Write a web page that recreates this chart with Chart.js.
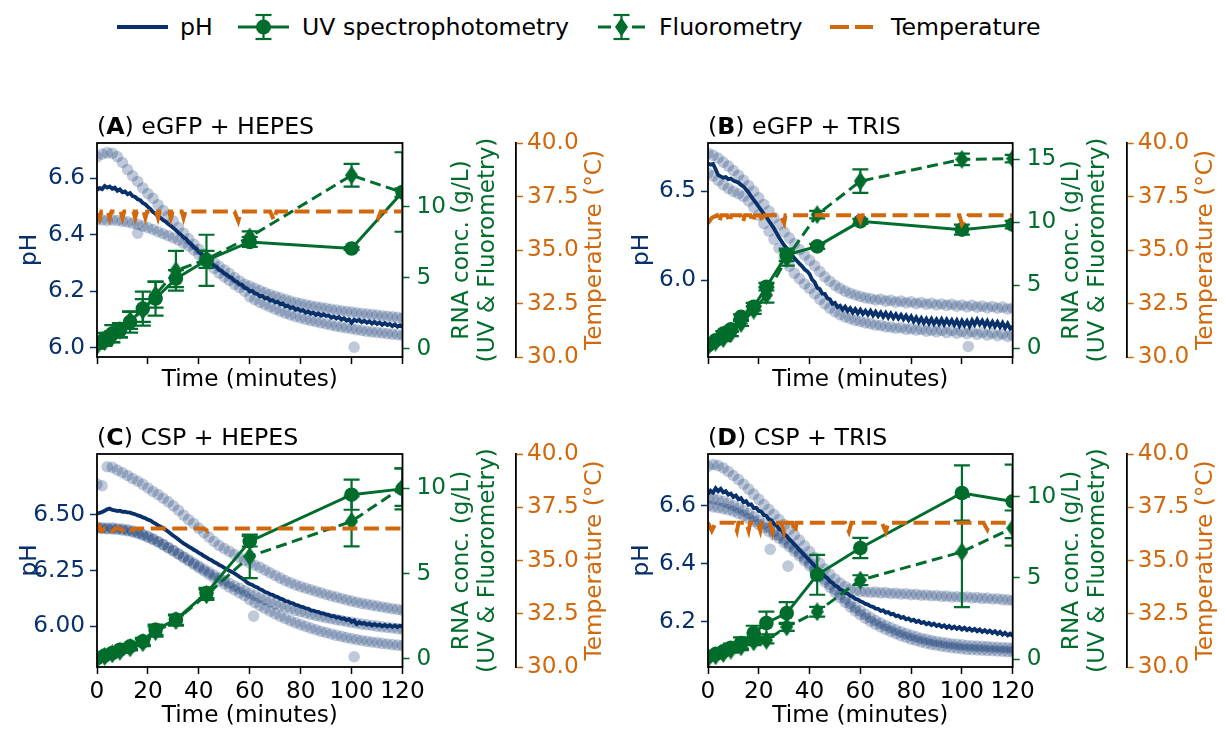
<!DOCTYPE html>
<html>
<head>
<meta charset="utf-8">
<script src="https://cdn.jsdelivr.net/npm/chart.js@4.4.1/dist/chart.umd.min.js"></script>
<style>
  html, body { margin: 0; padding: 0; background: #fff; }
  body { width: 1225px; height: 730px; position: relative; overflow: hidden; font-family: 'DejaVu Sans', sans-serif; }
  canvas { position: absolute; }
  .leg { position: absolute; top: 12px; height: 30px; line-height: 30px; font-size: 23.6px; color: #000; white-space: nowrap; }
  .icon { position: absolute; top: 12px; }
</style>
</head>
<body>

<svg class="icon" style="left:113px" width="60" height="30"><line x1="4" y1="15" x2="55" y2="15" stroke="#08306b" stroke-width="4"/></svg>
<span class="leg" style="left:180px">pH</span>

<svg class="icon" style="left:232px" width="64" height="30">
  <line x1="6" y1="15" x2="57" y2="15" stroke="#006d2c" stroke-width="3"/>
  <g stroke="#006d2c" stroke-width="2.2"><line x1="31.5" y1="3" x2="31.5" y2="27"/><line x1="23.5" y1="3" x2="39.5" y2="3"/><line x1="23.5" y1="27" x2="39.5" y2="27"/></g>
  <circle cx="31.5" cy="15" r="7.5" fill="#006d2c"/>
</svg>
<span class="leg" style="left:302px">UV spectrophotometry</span>

<svg class="icon" style="left:594px" width="56" height="30">
  <g stroke="#006d2c" stroke-width="3"><line x1="4" y1="15" x2="17" y2="15"/><line x1="38" y1="15" x2="51" y2="15"/></g>
  <g stroke="#006d2c" stroke-width="2.2"><line x1="27.5" y1="3" x2="27.5" y2="27"/><line x1="19.5" y1="3" x2="35.5" y2="3"/><line x1="19.5" y1="27" x2="35.5" y2="27"/></g>
  <polygon points="27.5,5.5 34,15 27.5,24.5 21,15" fill="#006d2c"/>
</svg>
<span class="leg" style="left:659px">Fluorometry</span>

<svg class="icon" style="left:826px" width="52" height="30"><g stroke="#d2680c" stroke-width="4"><line x1="4" y1="15" x2="23" y2="15"/><line x1="29" y1="15" x2="47" y2="15"/></g></svg>
<span class="leg" style="left:891px">Temperature</span>

<canvas id="panelA" width="612" height="294" style="left:0px;top:100px"></canvas>
<canvas id="panelB" width="613" height="294" style="left:612px;top:100px"></canvas>
<canvas id="panelC" width="612" height="318" style="left:0px;top:412px"></canvas>
<canvas id="panelD" width="613" height="318" style="left:612px;top:412px"></canvas>

<script>
// ---- time grids ----
const lineMinutes = [0,1,2,3,4,5,6,7,8,9,10,11,12,13,14,15,16,17,18,19,20,21,22,23,24,25,26,27,28,29,
  30,31,32,33,34,35,36,37,38,39,40,41,42,43,44,45,46,47,48,49,50,51,52,53,54,55,56,57,58,59,
  60,61,62,63,64,65,66,67,68,69,70,71,72,73,74,75,76,77,78,79,80,81,82,83,84,85,86,87,88,89,
  90,91,92,93,94,95,96,97,98,99,100,101,102,103,104,105,106,107,108,109,110,111,112,113,114,115,116,117,118,119,120];
const scatterMinutes = [0,2,4,6,8,10,12,14,16,18,20,22,24,26,28,30,32,34,36,38,40,42,44,46,48,50,52,54,56,58,
  60,62,64,66,68,70,72,74,76,78,80,82,84,86,88,90,92,94,96,98,100,102,104,106,108,110,112,114,116,118,120];
const sampleMinutes = [0, 3, 6, 9, 13, 18, 23, 31, 43, 60, 100, 120];
const timeTicks = [0, 20, 40, 60, 80, 100, 120];
const tempTicks = [30, 32.5, 35, 37.5, 40];

// ---- (A) eGFP + HEPES ----
const phLineA = [6.558,6.565,6.561,6.572,6.566,6.570,6.562,6.566,6.555,6.560,
  6.550,6.553,6.543,6.547,6.536,6.533,6.525,6.522,6.512,6.507,
  6.498,6.490,6.480,6.474,6.463,6.459,6.451,6.446,6.437,6.431,
  6.423,6.416,6.406,6.400,6.390,6.385,6.373,6.366,6.355,6.350,
  6.338,6.332,6.318,6.313,6.302,6.298,6.289,6.286,6.275,6.271,
  6.263,6.258,6.250,6.246,6.236,6.233,6.224,6.222,6.212,6.209,
  6.199,6.201,6.192,6.190,6.181,6.183,6.174,6.176,6.166,6.168,
  6.160,6.163,6.153,6.156,6.146,6.149,6.140,6.143,6.134,6.137,
  6.130,6.133,6.124,6.128,6.120,6.124,6.116,6.121,6.113,6.118,
  6.112,6.114,6.106,6.110,6.103,6.108,6.099,6.104,6.096,6.100,
  6.088,6.099,6.094,6.098,6.090,6.095,6.088,6.093,6.085,6.091,
  6.084,6.089,6.081,6.087,6.080,6.084,6.076,6.082,6.074,6.079,6.072];
const phRep1A = [6.675,6.685,6.690,6.688,6.676,6.655,6.630,6.608,6.588,6.565,
  6.545,6.528,6.505,6.485,6.466,6.448,6.425,6.405,6.385,6.366,
  6.348,6.330,6.314,6.300,6.288,6.275,6.262,6.248,6.236,6.224,
  6.218,6.210,6.202,6.195,6.188,6.182,6.176,6.170,6.165,6.160,
  6.156,6.152,6.148,6.145,6.142,6.139,6.136,6.133,6.130,6.128,
  6.126,6.123,6.121,6.119,6.117,6.115,6.113,6.111,6.109,6.107,6.105];
const phRep2A = [6.455,6.452,6.450,6.452,6.450,6.447,6.445,6.440,6.436,6.430,
  6.425,6.418,6.410,6.403,6.396,6.388,6.380,6.370,6.360,6.346,
  6.330,6.312,6.296,6.280,6.264,6.250,6.238,6.224,6.213,6.200,
  6.180,6.170,6.160,6.152,6.144,6.136,6.129,6.122,6.116,6.110,
  6.105,6.100,6.096,6.092,6.088,6.084,6.080,6.076,6.073,6.070,
  6.067,6.064,6.061,6.058,6.056,6.054,6.052,6.050,6.048,6.046,6.043];
const outlierTimeA = [16, 101];
const outlierPhA = [6.405, 6.002];
const uvA = [0.37, 0.72, 1.07, 1.30, 1.89, 2.83, 3.54, 4.94, 6.23, 7.52, 7.06, 11.04];
const uvErrA = [0.3, 0.4, 0.6, 0.5, 0.75, 1.2, 1.2, 0.6, 1.8, 0.35, 0.1, 2.8];
const fluoA = [0.2, 0.5, 0.85, 1.3, 2.0, 2.7, 3.8, 5.5, 6.3, 7.87, 12.22, 11.0];
const fluoErrA = [0.2, 0.3, 0.4, 0.5, 0.6, 0.8, 0.9, 1.4, 0.6, 0.4, 0.8, 0.3];
const tempTimeA = [0, 1, 1.7, 4.3, 5, 5.7, 9.3, 10, 10.7, 14.3, 15, 15.7, 18.3, 19, 19.7, 23.3, 24, 24.7,
  28.3, 29, 29.7, 33.3, 34, 34.7, 54, 55.5, 56.5, 68, 69.5, 70.5, 109, 110.5, 111.5, 120];
const tempA = [36.7, 36.45, 36.8, 36.8, 36.5, 36.8, 36.8, 36.5, 36.8, 36.8, 36.5, 36.8, 36.8, 36.5, 36.8,
  36.8, 36.5, 36.8, 36.8, 36.5, 36.8, 36.8, 36.5, 36.8, 36.8, 36.35, 36.8, 36.8, 36.4, 36.8,
  36.8, 36.5, 36.8, 36.8];

// ---- (B) eGFP + TRIS ----
const phLineB = [6.655,6.648,6.652,6.622,6.590,6.582,6.575,6.578,6.566,6.570,
  6.558,6.553,6.547,6.534,6.525,6.508,6.492,6.470,6.450,6.432,
  6.412,6.392,6.372,6.355,6.332,6.312,6.290,6.265,6.240,6.218,
  6.196,6.180,6.162,6.146,6.124,6.110,6.094,6.080,6.062,6.052,
  6.036,6.004,5.990,5.958,5.952,5.926,5.925,5.900,5.894,5.868,
  5.874,5.850,5.858,5.836,5.852,5.828,5.844,5.820,5.839,5.816,
  5.836,5.812,5.830,5.808,5.829,5.804,5.824,5.800,5.820,5.796,
  5.818,5.792,5.814,5.789,5.810,5.786,5.806,5.782,5.803,5.777,
  5.798,5.770,5.792,5.766,5.788,5.762,5.785,5.759,5.784,5.757,
  5.781,5.756,5.782,5.754,5.780,5.756,5.777,5.751,5.776,5.746,
  5.774,5.749,5.772,5.744,5.776,5.752,5.780,5.754,5.774,5.746,
  5.772,5.744,5.768,5.742,5.766,5.739,5.762,5.734,5.758,5.730,5.742];
const phRep1B = [6.712,6.700,6.685,6.662,6.640,6.615,6.588,6.560,6.530,6.498,
  6.462,6.425,6.388,6.350,6.312,6.272,6.238,6.205,6.172,6.142,
  6.112,6.082,6.050,6.020,5.995,5.972,5.955,5.940,5.928,5.918,
  5.910,5.902,5.898,5.890,5.894,5.884,5.888,5.878,5.884,5.874,
  5.880,5.870,5.876,5.866,5.872,5.862,5.868,5.860,5.866,5.856,
  5.862,5.852,5.860,5.850,5.856,5.846,5.854,5.844,5.850,5.840,5.846];
const phRep2B = [6.600,6.585,6.560,6.535,6.515,6.498,6.485,6.470,6.445,6.410,
  6.365,6.318,6.275,6.230,6.180,6.125,6.080,6.040,6.010,5.980,
  5.955,5.925,5.895,5.868,5.845,5.825,5.808,5.795,5.785,5.776,
  5.770,5.762,5.758,5.750,5.748,5.740,5.738,5.732,5.735,5.726,
  5.730,5.722,5.726,5.716,5.722,5.712,5.720,5.708,5.718,5.704,
  5.714,5.702,5.712,5.698,5.708,5.694,5.704,5.690,5.700,5.686,5.694];
const outlierTimeB = [102.5];
const outlierPhB = [5.63];
const uvB = [0.24, 0.64, 1.17, 1.5, 2.50, 3.30, 4.89, 7.42, 8.09, 10.08, 9.42, 9.82];
const uvErrB = [0.1, 0.1, 0.2, 0.2, 0.2, 0.3, 0.3, 0.5, 0.2, 0.2, 0.4, 0.3];
const fluoB = [0.13, 0.5, 0.77, 1.17, 1.97, 3.03, 4.23, 7.16, 10.61, 13.27, 15.0, 15.06];
const fluoErrB = [0.1, 0.1, 0.2, 0.2, 0.2, 0.3, 0.6, 0.6, 0.3, 0.93, 0.45, 0.3];
const tempTimeB = [0, 1.5, 3.5, 4.5, 5.2, 7.5, 8.5, 9.2, 12.8, 13.8, 14.5, 16.7, 17.7, 18.4, 20.6, 21.6, 22.3,
  28.5, 30, 30.5, 59, 60, 60.7, 99, 100, 102.5, 120];
const tempB = [36.25, 36.5, 36.62, 36.3, 36.62, 36.62, 36.3, 36.62, 36.62, 36.3, 36.62, 36.62, 36.3, 36.62,
  36.62, 36.3, 36.62, 36.62, 36.25, 36.62, 36.62, 36.35, 36.62, 36.62, 36.2, 36.62, 36.62];

// ---- (C) CSP + HEPES ----
const phLineC = [6.505,6.508,6.512,6.518,6.524,6.528,6.522,6.520,6.516,6.518,
  6.513,6.514,6.510,6.509,6.505,6.502,6.497,6.494,6.488,6.484,
  6.478,6.474,6.466,6.460,6.452,6.446,6.440,6.432,6.424,6.415,
  6.406,6.398,6.389,6.380,6.372,6.365,6.357,6.351,6.343,6.337,
  6.329,6.323,6.315,6.309,6.301,6.296,6.288,6.283,6.275,6.270,
  6.262,6.257,6.249,6.244,6.237,6.230,6.222,6.215,6.207,6.196,
  6.190,6.186,6.178,6.174,6.166,6.162,6.154,6.151,6.144,6.141,
  6.134,6.131,6.124,6.121,6.113,6.112,6.105,6.103,6.096,6.094,
  6.088,6.086,6.080,6.079,6.072,6.071,6.066,6.065,6.058,6.058,
  6.052,6.051,6.045,6.047,6.040,6.041,6.034,6.036,6.028,6.032,
  6.020,6.026,6.010,6.018,6.012,6.015,6.008,6.012,6.004,6.010,
  6.003,6.008,6.000,6.006,5.999,6.005,5.998,6.004,5.997,6.003,5.999];
const phRep1C = [6.637,6.630,6.715,6.712,6.700,6.688,6.676,6.662,6.650,6.636,
  6.620,6.604,6.590,6.574,6.558,6.540,6.520,6.498,6.478,6.460,
  6.440,6.420,6.400,6.380,6.362,6.348,6.336,6.322,6.308,6.296,
  6.284,6.274,6.264,6.252,6.240,6.228,6.216,6.205,6.195,6.186,
  6.178,6.171,6.164,6.157,6.150,6.143,6.137,6.131,6.125,6.119,
  6.113,6.108,6.103,6.099,6.095,6.091,6.087,6.083,6.079,6.076,6.072];
const phRep2C = [6.445,6.442,6.440,6.441,6.438,6.436,6.432,6.427,6.420,6.412,
  6.403,6.392,6.380,6.366,6.352,6.338,6.323,6.308,6.293,6.278,
  6.263,6.248,6.233,6.218,6.204,6.190,6.176,6.163,6.150,6.138,
  6.120,6.106,6.093,6.080,6.068,6.056,6.045,6.035,6.025,6.016,
  6.008,6.000,5.992,5.985,5.978,5.972,5.966,5.960,5.955,5.950,
  5.945,5.941,5.937,5.933,5.930,5.927,5.924,5.921,5.918,5.916,5.914];
const phRep3C = [6.440,6.438,6.437,6.436,6.434,6.431,6.428,6.423,6.416,6.408,
  6.399,6.389,6.378,6.366,6.353,6.340,6.326,6.312,6.298,6.284,
  6.270,6.256,6.243,6.230,6.217,6.205,6.193,6.181,6.170,6.159,
  6.148,6.138,6.128,6.119,6.110,6.102,6.094,6.086,6.079,6.072,
  6.066,6.060,6.054,6.049,6.044,6.039,6.034,6.030,6.026,6.022,
  6.018,6.014,6.010,6.007,6.004,6.001,5.998,5.995,5.993,5.990,5.988];
const outlierTimeC = [61.5, 101];
const outlierPhC = [6.046, 5.864];
const uvC = [0.05, 0.2, 0.35, 0.54, 0.74, 1.03, 1.71, 2.30, 3.86, 6.88, 9.61, 9.95];
const uvErrC = [0.1, 0.1, 0.1, 0.1, 0.15, 0.2, 0.3, 0.3, 0.3, 0.3, 0.88, 1.2];
const fluoC = [0.0, 0.15, 0.3, 0.45, 0.65, 0.95, 1.6, 2.25, 3.75, 6.0, 8.05, 10.05];
const fluoErrC = [0.1, 0.1, 0.1, 0.1, 0.15, 0.2, 0.3, 0.3, 0.3, 1.27, 1.46, 1.1];
const tempTimeC = [0, 1, 2, 3, 5, 6, 7, 9, 10, 11, 13, 14, 15, 42, 43.5, 44.5, 120];
const tempC = [36.35, 36.6, 36.4, 36.5, 36.5, 36.38, 36.5, 36.5, 36.42, 36.5, 36.5, 36.42, 36.5, 36.5, 36.38, 36.5, 36.5];

// ---- (D) CSP + TRIS ----
const phLineD = [6.640,6.652,6.645,6.660,6.650,6.658,6.646,6.650,6.638,6.642,
  6.630,6.635,6.622,6.626,6.612,6.616,6.603,6.605,6.592,6.593,
  6.582,6.580,6.568,6.565,6.553,6.550,6.537,6.532,6.520,6.515,
  6.502,6.496,6.485,6.477,6.467,6.458,6.448,6.439,6.430,6.421,
  6.412,6.402,6.393,6.384,6.375,6.367,6.357,6.351,6.340,6.335,
  6.325,6.322,6.312,6.309,6.300,6.298,6.290,6.287,6.280,6.277,
  6.271,6.268,6.262,6.260,6.254,6.252,6.246,6.245,6.238,6.240,
  6.232,6.234,6.226,6.228,6.220,6.222,6.214,6.217,6.209,6.212,
  6.204,6.208,6.200,6.204,6.196,6.200,6.192,6.197,6.189,6.194,
  6.186,6.191,6.183,6.188,6.180,6.186,6.178,6.184,6.176,6.182,
  6.174,6.180,6.172,6.178,6.170,6.176,6.168,6.174,6.166,6.172,
  6.164,6.170,6.162,6.168,6.159,6.166,6.156,6.163,6.154,6.160,6.152];
const phRep1D = [6.735,6.742,6.738,6.730,6.718,6.704,6.690,6.674,6.657,6.640,
  6.622,6.604,6.587,6.570,6.552,6.535,6.518,6.500,6.482,6.462,
  6.442,6.422,6.402,6.382,6.364,6.348,6.334,6.322,6.313,6.308,
  6.305,6.304,6.302,6.303,6.300,6.301,6.298,6.299,6.296,6.297,
  6.294,6.295,6.292,6.293,6.290,6.291,6.288,6.289,6.286,6.287,
  6.285,6.286,6.283,6.284,6.281,6.282,6.279,6.280,6.277,6.276,6.274];
const phRep2D = [6.600,6.596,6.593,6.590,6.586,6.581,6.574,6.566,6.556,6.546,
  6.535,6.524,6.512,6.500,6.488,6.474,6.460,6.444,6.428,6.411,
  6.394,6.375,6.356,6.338,6.320,6.302,6.284,6.268,6.252,6.238,
  6.225,6.213,6.202,6.192,6.183,6.175,6.167,6.160,6.153,6.147,
  6.141,6.136,6.131,6.127,6.123,6.120,6.117,6.114,6.112,6.110,
  6.108,6.106,6.105,6.104,6.103,6.102,6.101,6.100,6.099,6.098,6.097];
const phRep3D = [6.628,6.624,6.620,6.615,6.608,6.600,6.592,6.583,6.573,6.562,
  6.550,6.538,6.525,6.512,6.498,6.484,6.469,6.453,6.437,6.420,
  6.402,6.384,6.365,6.347,6.329,6.312,6.295,6.279,6.264,6.250,
  6.238,6.226,6.215,6.205,6.196,6.188,6.180,6.173,6.166,6.160,
  6.154,6.149,6.144,6.140,6.136,6.133,6.130,6.127,6.125,6.123,
  6.121,6.119,6.118,6.117,6.116,6.115,6.114,6.113,6.112,6.111,6.110];
const outlierTimeD = [24.5, 31.5];
const outlierPhD = [6.45, 6.392];
const uvD = [0.16, 0.3, 0.47, 0.7, 0.99, 1.6, 2.22, 2.83, 5.19, 6.84, 10.23, 9.71];
const uvErrD = [0.1, 0.1, 0.15, 0.25, 0.35, 0.45, 0.7, 0.67, 1.23, 0.62, 1.7, 2.26];
const fluoD = [0.03, 0.2, 0.34, 0.55, 0.75, 1.06, 1.16, 1.98, 2.91, 4.86, 6.6, 8.07];
const fluoErrD = [0.05, 0.1, 0.1, 0.15, 0.2, 0.2, 0.2, 0.25, 0.3, 0.3, 3.4, 1.08];
const tempTimeD = [0, 1.5, 3, 10.4, 11.4, 12, 15, 16, 16.6, 19.6, 20.6, 21.2, 24.3, 25.3, 25.9, 28.9, 29.9, 30.5,
  33.3, 34.3, 34.9, 54, 55.5, 56.5, 68.5, 70, 71, 108.5, 110, 111, 120];
const tempD = [36.77, 36.4, 36.77, 36.77, 36.4, 36.77, 36.77, 36.4, 36.77, 36.77, 36.4, 36.77, 36.77, 36.35, 36.77,
  36.77, 36.35, 36.77, 36.77, 36.3, 36.77, 36.77, 36.35, 36.77, 36.77, 36.35, 36.77, 36.77, 36.45, 36.77, 36.77];

// ---- styling ----
const FS = 23.2;
const TITLE_FS = 23.7;
const NAVY = '#08306b';
const GREEN = '#006d2c';
const ORANGE = '#d2680c';
const SCATTER = 'rgba(8, 48, 107, 0.26)';

Chart.defaults.font.family = 'DejaVu Sans';
Chart.defaults.font.size = FS;
Chart.defaults.color = '#000';

function thinDiamond(color) {
  const c = document.createElement('canvas');
  c.width = 13; c.height = 19;
  const g = c.getContext('2d');
  g.fillStyle = color;
  g.beginPath();
  g.moveTo(6.5, 0); g.lineTo(13, 9.5); g.lineTo(6.5, 19); g.lineTo(0, 9.5);
  g.closePath();
  g.fill();
  return c;
}
const DIAMOND = thinDiamond(GREEN);

function xy(xs, ys) {
  return xs.map((x, i) => ({x: x, y: ys[i]}));
}

// error bars for datasets that carry an "errors" array
const errorBars = {
  id: 'errorBars',
  afterDatasetDraw(chart, args) {
    const ds = chart.data.datasets[args.index];
    if (!ds.errors) return;
    const ctx = chart.ctx, a = chart.chartArea;
    const ys = chart.scales[ds.yAxisID];
    ctx.save();
    ctx.beginPath();
    ctx.rect(a.left, a.top, a.right - a.left, a.bottom - a.top);
    ctx.clip();
    ctx.strokeStyle = ds.borderColor;
    ctx.lineWidth = 2.2;
    ctx.setLineDash([]);
    args.meta.data.forEach((pt, i) => {
      const v = ds.data[i].y, e = ds.errors[i];
      const y1 = ys.getPixelForValue(v - e), y2 = ys.getPixelForValue(v + e);
      ctx.beginPath();
      ctx.moveTo(pt.x, y1); ctx.lineTo(pt.x, y2);
      ctx.moveTo(pt.x - 8, y1); ctx.lineTo(pt.x + 8, y1);
      ctx.moveTo(pt.x - 8, y2); ctx.lineTo(pt.x + 8, y2);
      ctx.stroke();
    });
    ctx.restore();
  }
};

function rotText(ctx, text, x, y, color) {
  ctx.save();
  ctx.translate(x, y);
  ctx.rotate(-Math.PI / 2);
  ctx.fillStyle = color;
  ctx.fillText(text, 0, 0);
  ctx.restore();
}

// frame, panel title and the right-hand axis titles
function decor(p) {
  return {
    id: 'decor' + p.letter,
    afterDraw(chart) {
      const ctx = chart.ctx, a = chart.chartArea;
      ctx.save();
      ctx.strokeStyle = '#000';
      ctx.lineWidth = 1.8;
      ctx.strokeRect(a.left, a.top, a.right - a.left, a.bottom - a.top);

      ctx.fillStyle = '#000';
      ctx.textAlign = 'left';
      ctx.textBaseline = 'alphabetic';
      let x = a.left;
      const parts = [['(', 'normal'], [p.letter, 'bold'], [') ' + p.title, 'normal']];
      parts.forEach(([t, w]) => {
        ctx.font = w + ' ' + TITLE_FS + 'px "DejaVu Sans"';
        ctx.fillText(t, x, a.top - 9);
        x += ctx.measureText(t).width;
      });

      ctx.font = FS + 'px "DejaVu Sans"';
      ctx.textAlign = 'center';
      ctx.textBaseline = 'middle';
      const cy = (a.top + a.bottom) / 2;
      rotText(ctx, 'RNA conc. (g/L)', a.right + 59.5, cy, GREEN);
      rotText(ctx, '(UV & Fluorometry)', a.right + 85.5, cy, GREEN);
      rotText(ctx, 'Temperature (°C)', chart.scales.temp.left + 79, cy, ORANGE);
      ctx.restore();
    }
  };
}

function drawPanel(id, p) {
  const datasets = [];
  p.reps.forEach(r => {
    datasets.push({data: xy(scatterMinutes, r), yAxisID: 'ph', showLine: false, pointRadius: 5.8,
      pointBackgroundColor: SCATTER, pointBorderWidth: 0, order: 9, clip: 0});
  });
  datasets.push({data: xy(p.outT, p.outPh), yAxisID: 'ph', showLine: false, pointRadius: 5.8,
    pointBackgroundColor: SCATTER, pointBorderWidth: 0, order: 9, clip: 0});
  datasets.push({data: xy(lineMinutes, p.line), yAxisID: 'ph', borderColor: NAVY, borderWidth: 3.8,
    pointRadius: 0, order: 8, clip: 0});
  datasets.push({data: xy(sampleMinutes, p.uv), errors: p.uvErr, yAxisID: 'rna', borderColor: GREEN,
    borderWidth: 3, pointRadius: 7.3, pointBackgroundColor: GREEN, pointBorderWidth: 0, order: 6, clip: 0});
  datasets.push({data: xy(sampleMinutes, p.fl), errors: p.flErr, yAxisID: 'rna', borderColor: GREEN,
    borderWidth: 3, borderDash: [11, 5.5], pointStyle: DIAMOND, pointRadius: 6, order: 5, clip: 0});
  datasets.push({data: xy(p.tempT, p.temp), yAxisID: 'temp', borderColor: ORANGE, borderWidth: 4,
    borderDash: [15, 6.5], pointRadius: 0, order: 1, clip: 0});

  const tickGrid = color => ({drawOnChartArea: false, drawTicks: true, tickLength: 7, tickWidth: 1.5, tickColor: color});

  new Chart(document.getElementById(id), {
    type: 'line',
    data: {datasets: datasets},
    options: {
      responsive: false,
      animation: false,
      devicePixelRatio: 1,
      events: [],
      layout: {padding: {top: p.padTop, left: 0, right: 0, bottom: 0}},
      plugins: {legend: {display: false}, tooltip: {enabled: false}},
      scales: {
        x: {
          type: 'linear', position: 'bottom', min: 0, max: 120,
          afterBuildTicks: s => { s.ticks = timeTicks.map(v => ({value: v})); },
          afterFit: s => { s.height = p.xH; },
          grid: tickGrid('#000'),
          border: {display: false},
          ticks: {color: '#000', padding: 4, maxRotation: 0, autoSkip: false,
            callback: v => p.showX ? String(v) : ''},
          title: {display: true, text: 'Time (minutes)', color: '#000', padding: 0}
        },
        ph: {
          type: 'linear', position: 'left', min: p.phMin, max: p.phMax,
          afterBuildTicks: s => { s.ticks = p.phTicks.map(v => ({value: v})); },
          afterFit: s => { s.width = p.phW; },
          grid: tickGrid(NAVY),
          border: {display: false},
          ticks: {color: NAVY, padding: 5, autoSkip: false, callback: v => v.toFixed(p.phDec)},
          title: {display: true, text: 'pH', color: NAVY, padding: {top: 16.5, bottom: 0}}
        },
        rna: {
          type: 'linear', position: 'right', weight: 0, min: p.rnaMin, max: p.rnaMax,
          afterBuildTicks: s => { s.ticks = p.rnaTicks.map(v => ({value: v})); },
          afterFit: s => { s.width = p.rnaW; },
          grid: tickGrid(GREEN),
          border: {display: false},
          ticks: {color: GREEN, padding: 7, autoSkip: false, callback: v => String(v)}
        },
        temp: {
          type: 'linear', position: 'right', weight: 1, min: 30, max: 40,
          afterBuildTicks: s => { s.ticks = tempTicks.map(v => ({value: v})); },
          afterFit: s => { s.width = p.tempW; },
          grid: tickGrid(ORANGE),
          border: {display: true, color: '#000', width: 1.8},
          ticks: {color: ORANGE, padding: 4, autoSkip: false, callback: v => v.toFixed(1)}
        }
      }
    },
    plugins: [errorBars, decor(p)]
  });
}

drawPanel('panelA', {
  letter: 'A', title: 'eGFP + HEPES', padTop: 43, xH: 37, showX: false,
  phW: 97, rnaW: 113.5, tempW: 96,
  phMin: 5.967, phMax: 6.724, phTicks: [6.0, 6.2, 6.4, 6.6], phDec: 1,
  rnaMin: -0.58, rnaMax: 14.49, rnaTicks: [0, 5, 10],
  reps: [phRep1A, phRep2A], outT: outlierTimeA, outPh: outlierPhA, line: phLineA,
  uv: uvA, uvErr: uvErrA, fl: fluoA, flErr: fluoErrA, tempT: tempTimeA, temp: tempA
});
drawPanel('panelB', {
  letter: 'B', title: 'eGFP + TRIS', padTop: 43, xH: 37, showX: false,
  phW: 96, rnaW: 114, tempW: 98.3,
  phMin: 5.571, phMax: 6.769, phTicks: [6.0, 6.5], phDec: 1,
  rnaMin: -0.69, rnaMax: 16.3, rnaTicks: [0, 5, 10, 15],
  reps: [phRep1B, phRep2B], outT: outlierTimeB, outPh: outlierPhB, line: phLineB,
  uv: uvB, uvErr: uvErrB, fl: fluoB, flErr: fluoErrB, tempT: tempTimeB, temp: tempB
});
drawPanel('panelC', {
  letter: 'C', title: 'CSP + HEPES', padTop: 42, xH: 63, showX: true,
  phW: 97, rnaW: 113.5, tempW: 96,
  phMin: 5.818, phMax: 6.772, phTicks: [6.0, 6.25, 6.5], phDec: 2,
  rnaMin: -0.47, rnaMax: 11.99, rnaTicks: [0, 5, 10],
  reps: [phRep1C, phRep2C, phRep3C], outT: outlierTimeC, outPh: outlierPhC, line: phLineC,
  uv: uvC, uvErr: uvErrC, fl: fluoC, flErr: fluoErrC, tempT: tempTimeC, temp: tempC
});
drawPanel('panelD', {
  letter: 'D', title: 'CSP + TRIS', padTop: 42, xH: 63, showX: true,
  phW: 96, rnaW: 114, tempW: 98.3,
  phMin: 6.045, phMax: 6.778, phTicks: [6.2, 6.4, 6.6], phDec: 1,
  rnaMin: -0.49, rnaMax: 12.63, rnaTicks: [0, 5, 10],
  reps: [phRep1D, phRep2D, phRep3D], outT: outlierTimeD, outPh: outlierPhD, line: phLineD,
  uv: uvD, uvErr: uvErrD, fl: fluoD, flErr: fluoErrD, tempT: tempTimeD, temp: tempD
});
</script>
</body>
</html>
